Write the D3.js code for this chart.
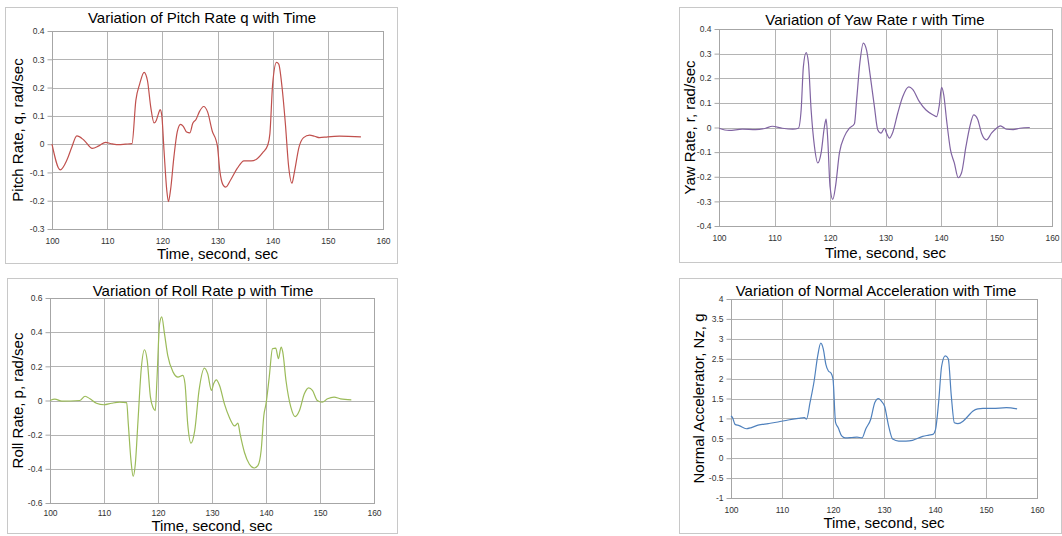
<!DOCTYPE html>
<html>
<head>
  <title>Flight Test Rates vs Time</title>
  <script src="https://d3js.org/d3.v7.min.js"></script>
  <style>
    body { margin: 0; background: #fff; }
    svg { font-family: "Liberation Sans", Arial, sans-serif; }
    .tick text { font-size: 8.5px; fill: #333; }
    .chart-title, .axis-title { font-size: 15px; fill: #000; }
  </style>
</head>
<body>
  <svg width="1062" height="536"></svg>

  <script>
    // time ticks shared by all four charts
    const timeTicks = [100, 110, 120, 130, 140, 150, 160];

    const pitchTicks = [-0.3, -0.2, -0.1, 0, 0.1, 0.2, 0.3, 0.4];
    const yawTicks = [-0.4, -0.3, -0.2, -0.1, 0, 0.1, 0.2, 0.3, 0.4];
    const rollTicks = [-0.6, -0.4, -0.2, 0, 0.2, 0.4, 0.6];
    const nzTicks = [-1, -0.5, 0, 0.5, 1, 1.5, 2, 2.5, 3, 3.5, 4];

    // [time sec, value]
    const pitchRate = [
      [100, 0], [101.5, -0.091], [102.7, -0.056], [103.6, -0.01], [104.5, 0.029], [105.8, 0.014],
      [107.3, -0.015], [108.5, -0.006], [109.7, 0.006], [110.9, 0.001], [112.1, -0.002], [113.3, 0],
      [114.5, 0.002], [115.2, 0.155], [115.9, 0.213], [116.7, 0.254], [117.3, 0.225], [117.9, 0.131],
      [118.5, 0.075], [118.9, 0.084], [119.3, 0.108], [119.6, 0.122], [119.9, 0.102], [120.3, -0.021],
      [120.8, -0.162], [121.1, -0.203], [121.5, -0.16], [122.1, -0.045], [122.7, 0.043], [123.3, 0.07],
      [123.8, 0.063], [124.4, 0.043], [125.0, 0.04], [125.5, 0.073], [126.1, 0.087], [126.7, 0.114],
      [127.5, 0.133], [128.2, 0.114], [129.1, 0.043], [129.7, 0.016], [130.0, -0.009], [130.4, -0.091],
      [131.0, -0.144], [131.5, -0.152], [132.4, -0.126], [133.6, -0.085], [134.8, -0.059], [136.1, -0.059],
      [137.0, -0.054], [138.2, -0.03], [139.1, -0.004], [139.5, 0.037], [140.0, 0.213], [140.7, 0.289],
      [141.1, 0.283], [141.7, 0.201], [142.3, 0.073], [142.9, -0.08], [143.5, -0.138], [143.9, -0.103],
      [144.8, -0.009], [145.6, 0.023], [146.7, 0.032], [147.6, 0.028], [148.5, 0.023], [150, 0.026],
      [152.1, 0.028], [156, 0.026]
    ];

    const yawRate = [
      [100, -0.003], [101.8, -0.012], [104.2, -0.007], [106.6, -0.009], [108.4, -0.003], [109.6, 0.005],
      [111.4, -0.003], [113.3, -0.007], [114.3, -0.003], [114.8, 0.071], [115.2, 0.246], [115.7, 0.304],
      [116.1, 0.266], [116.6, 0.071], [117.2, -0.077], [117.8, -0.144], [118.4, -0.103], [119.0, 0.004],
      [119.3, 0.034], [119.6, -0.05], [120, -0.238], [120.5, -0.292], [121.0, -0.238], [121.7, -0.103],
      [122.6, -0.036], [123.5, -0.003], [124.4, 0.015], [124.8, 0.112], [125.4, 0.266], [126.0, 0.343],
      [126.6, 0.313], [127.2, 0.219], [128.0, 0.085], [128.6, -0.009], [129.2, -0.023], [129.8, -0.003],
      [130.2, -0.023], [130.7, -0.043], [131.3, -0.02], [132.2, 0.058], [133.1, 0.125], [134.2, 0.165],
      [134.9, 0.155], [136.1, 0.105], [137.3, 0.071], [138.6, 0.051], [139.2, 0.044], [139.7, 0.091],
      [140.1, 0.163], [140.5, 0.132], [141.0, 0.031], [141.7, -0.09], [142.4, -0.144], [143.1, -0.204],
      [143.7, -0.184], [144.5, -0.077], [145.2, 0.004], [145.9, 0.051], [146.6, 0.034], [147.3, -0.023],
      [148.2, -0.05], [149.1, -0.023], [150.0, -0.003], [150.7, 0.007], [151.8, -0.007], [153.0, -0.009],
      [154.2, -0.003], [156, 0]
    ];

    const rollRate = [
      [100, 0], [100.9, 0.008], [102.2, -0.004], [105.5, 0], [106.5, 0.025], [107.4, 0.01],
      [108.6, -0.016], [110, -0.025], [111.4, -0.016], [112.9, -0.01], [114.2, -0.012], [114.5, -0.137],
      [115.0, -0.352], [115.4, -0.444], [115.8, -0.372], [116.3, -0.117], [116.9, 0.186], [117.5, 0.297],
      [118.0, 0.235], [118.6, 0.02], [119.1, -0.043], [119.5, -0.059], [119.8, 0.117], [120.3, 0.45],
      [120.7, 0.489], [121.2, 0.391], [121.8, 0.264], [122.8, 0.166], [123.7, 0.137], [124.6, 0.147],
      [125.0, 0.098], [125.5, -0.137], [126.1, -0.25], [126.8, -0.176], [127.6, 0.059], [128.6, 0.19],
      [129.2, 0.157], [129.9, 0.059], [130.3, 0.098], [130.8, 0.121], [131.4, 0.088], [132.3, -0.02],
      [133.2, -0.098], [134.2, -0.149], [134.8, -0.133], [135.2, -0.196], [136.0, -0.303], [136.9, -0.372],
      [137.8, -0.395], [138.5, -0.381], [139.1, -0.293], [139.6, -0.088], [140, -0.02], [140.6, 0.137],
      [141.2, 0.303], [141.8, 0.307], [142.3, 0.245], [142.8, 0.313], [143.1, 0.284], [143.7, 0.117],
      [144.6, -0.039], [145.4, -0.094], [146.2, -0.059], [147.1, 0.039], [147.9, 0.074], [148.6, 0.059],
      [149.5, 0], [150.4, -0.01], [151.4, 0.01], [152.6, 0.02], [153.8, 0.01], [155.8, 0.004]
    ];

    const normalAccel = [
      [100, 1.06], [100.3, 1.02], [100.8, 0.85], [101.6, 0.82], [103.0, 0.74], [104.0, 0.77],
      [105.3, 0.83], [107.3, 0.87], [109.2, 0.91], [111.2, 0.96], [113.2, 1.0], [114.4, 1.02],
      [114.8, 0.98], [115.5, 1.4], [116.3, 1.94], [117.0, 2.57], [117.6, 2.89], [118.1, 2.74],
      [118.6, 2.36], [119.1, 2.19], [119.6, 2.14], [120, 1.99], [120.5, 0.9], [121.0, 0.77],
      [121.7, 0.56], [122.4, 0.51], [123.7, 0.52], [124.7, 0.53], [125.7, 0.51], [126.4, 0.73],
      [127.4, 0.98], [128.2, 1.4], [128.9, 1.5], [129.5, 1.43], [130.1, 1.31], [130.9, 0.81],
      [131.7, 0.48], [132.9, 0.43], [134.3, 0.43], [135.6, 0.45], [137.6, 0.55], [138.8, 0.58],
      [139.6, 0.6], [140.1, 0.72], [140.7, 1.39], [141.3, 2.31], [142.0, 2.57], [142.6, 2.5],
      [143.2, 1.56], [143.8, 0.89], [144.5, 0.87], [145.5, 0.93], [146.5, 1.06], [147.4, 1.18],
      [148.4, 1.24], [149.4, 1.25], [151.3, 1.25], [154.0, 1.27], [156.1, 1.24]
    ];

    const svg = d3.select("svg");

    // each chart: outer frame box, plot box, labels
    const charts = [
      { frame: [5, 7, 397, 263], plot: [52, 31, 383, 229], titleX: 202, titleY: 23, xTitleY: 259, yTitleX: 23, xPad: 9,
        title: "Variation of Pitch Rate q with Time", yTitle: "Pitch Rate,  q,  rad/sec",
        ticks: pitchTicks, color: "#c0504d", data: pitchRate },
      { frame: [679, 7, 1061, 262], plot: [719, 29, 1052, 226], titleX: 875, titleY: 25, xTitleY: 258, yTitleX: 695, xPad: 9,
        title: "Variation of Yaw Rate r with Time", yTitle: "Yaw Rate,  r,  rad/sec",
        ticks: yawTicks, color: "#8064a2", data: yawRate },
      { frame: [7, 278, 397, 533], plot: [50, 298, 374, 503], titleX: 203, titleY: 296, xTitleY: 531, yTitleX: 23, xPad: 7,
        title: "Variation of Roll Rate p with Time", yTitle: "Roll Rate,  p,  rad/sec",
        ticks: rollTicks, color: "#9bbb59", data: rollRate },
      { frame: [679, 278, 1061, 533], plot: [731, 299, 1037, 498], titleX: 876, titleY: 296, xTitleY: 528, yTitleX: 704, xPad: 9,
        title: "Variation of Normal Acceleration with Time", yTitle: "Normal Accelerator,  Nz,  g",
        ticks: nzTicks, color: "#4f81bd", data: normalAccel }
    ];

    charts.forEach(c => {
      const [fx0, fy0, fx1, fy1] = c.frame;
      const [px0, py0, px1, py1] = c.plot;

      svg.append("rect")
        .attr("x", fx0 + 0.5).attr("y", fy0 + 0.5)
        .attr("width", fx1 - fx0).attr("height", fy1 - fy0)
        .attr("fill", "#fff").attr("stroke", "#c8c8c8");

      const x = d3.scaleLinear().domain([100, 160]).range([px0, px1]);
      const y = d3.scaleLinear().domain(d3.extent(c.ticks)).range([py1, py0]);

      // gridlines
      svg.append("g").selectAll("line.v")
        .data(timeTicks).enter().append("line")
        .attr("x1", d => Math.round(x(d)) + 0.5).attr("x2", d => Math.round(x(d)) + 0.5)
        .attr("y1", py0).attr("y2", py1)
        .attr("stroke", "#b4b4b4");
      svg.append("g").selectAll("line.h")
        .data(c.ticks).enter().append("line")
        .attr("x1", px0).attr("x2", px1)
        .attr("y1", d => Math.round(y(d)) + 0.5).attr("y2", d => Math.round(y(d)) + 0.5)
        .attr("stroke", "#b4b4b4");

      svg.append("rect")
        .attr("x", px0 + 0.5).attr("y", py0 + 0.5)
        .attr("width", px1 - px0).attr("height", py1 - py0)
        .attr("fill", "none").attr("stroke", "#a6a6a6");

      // axes (labels + y tick marks)
      const yAxis = svg.append("g")
        .attr("transform", `translate(${px0 + 0.5},0)`)
        .call(d3.axisLeft(y).tickValues(c.ticks).tickSize(5).tickPadding(3)
          .tickFormat(d => String(d)));
      yAxis.select(".domain").remove();
      yAxis.selectAll(".tick line").attr("stroke", "#a6a6a6");

      const xAxis = svg.append("g")
        .attr("transform", `translate(0,${py1})`)
        .call(d3.axisBottom(x).tickValues(timeTicks).tickSize(0).tickPadding(c.xPad)
          .tickFormat(d3.format("d")));
      xAxis.select(".domain").remove();

      // the trace
      const line = d3.line()
        .x(d => x(d[0]))
        .y(d => y(d[1]))
        .curve(d3.curveMonotoneX);
      svg.append("path")
        .datum(c.data)
        .attr("d", line)
        .attr("fill", "none")
        .attr("stroke", c.color)
        .attr("stroke-width", 1.2);

      // titles
      svg.append("text").attr("class", "chart-title")
        .attr("x", c.titleX).attr("y", c.titleY)
        .attr("text-anchor", "middle").text(c.title);
      svg.append("text").attr("class", "axis-title")
        .attr("x", (px0 + px1) / 2).attr("y", c.xTitleY)
        .attr("text-anchor", "middle").text("Time, second,  sec");
      svg.append("text").attr("class", "axis-title")
        .attr("transform", `translate(${c.yTitleX},${(py0 + py1) / 2}) rotate(-90)`)
        .attr("text-anchor", "middle").text(c.yTitle);
    });
  </script>
</body>
</html>
